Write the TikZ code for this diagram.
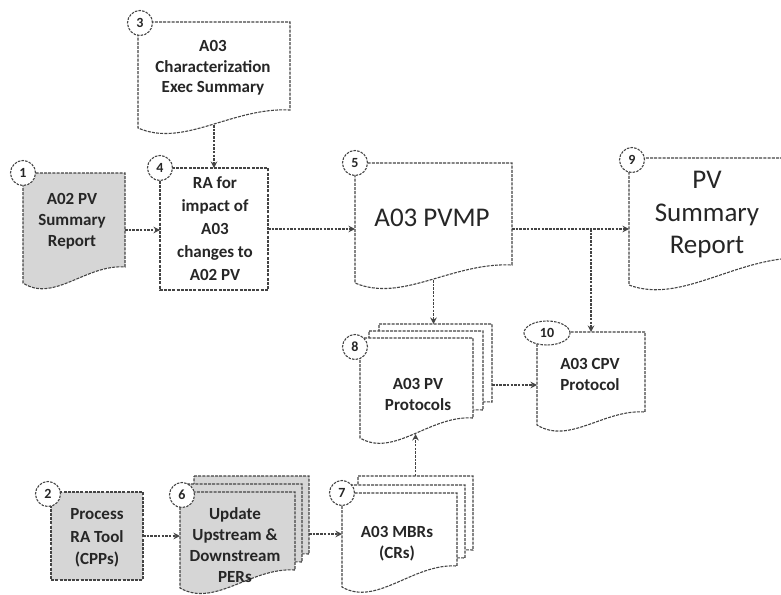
\documentclass[tikz,border=0pt]{standalone}
\usepackage{fontspec}
\setmainfont{Carlito}
\usetikzlibrary{arrows.meta,shapes.geometric}
\definecolor{ln}{HTML}{444444}
\definecolor{gfill}{HTML}{D6D6D6}
\definecolor{txt}{HTML}{262626}
\newcommand\docshape[6]{\draw[#1] (#2,#3) -- (#4,#3) -- (#4,#6) .. controls ({#2+0.62*(#4-#2)},{#6-3}) and ({#2+0.3*(#4-#2)},{#5+20}) .. (#2,#5) -- cycle;}
\newcommand\abox[5]{\node[inner sep=0pt,outer sep=0pt,minimum width={(#4)-(#2)},minimum height={(#5)-(#3)}] (#1) at ({(#2+#4)/2},{(#3+#5)/2}) {};}
\begin{document}
\begin{tikzpicture}[x=1pt,y=-1pt,
  shp/.style={draw=ln,line width=1.1pt,dash pattern=on 3pt off 1.2pt,fill=white},
  conn/.style={draw=ln,line width=1.1pt,dash pattern=on 2.5pt off 1.2pt,-{Stealth[open,length=6.5pt,width=6.5pt]}},
  num/.style={circle,draw=ln,line width=1.1pt,dash pattern=on 2.5pt off 1.2pt,fill=white,minimum size=25pt,inner sep=0pt,font=\fontsize{14}{16}\selectfont\bfseries,text=txt},
  numell/.style={ellipse,draw=ln,line width=1.1pt,dash pattern=on 2.5pt off 1.2pt,fill=white,minimum width=46pt,minimum height=24pt,inner sep=0pt,font=\fontsize{14}{16}\selectfont\bfseries,text=txt},
  lbl/.style={align=center,text=txt,inner sep=0pt,font=\fontsize{17}{21}\selectfont\bfseries},
  big/.style={align=center,text=txt,inner sep=0pt,font=\fontsize{27}{33}\selectfont}]
\useasboundingbox (0,0) rectangle (781,594);
\clip (0,0) rectangle (781,594);
% shapes
\docshape{shp,fill=gfill}{23}{173}{125}{283}{267}
\draw[shp] (160,168) rectangle (268,290);
\docshape{shp}{138}{22}{290}{128}{110}
\docshape{shp}{355}{163}{512}{283}{265}
\docshape{shp}{629}{158}{805}{285}{258}
\docshape{shp}{379}{324}{492}{422}{402}
\docshape{shp}{369}{331}{483}{430}{410}
\docshape{shp}{360}{338}{473}{438}{418}
\docshape{shp}{537}{332}{645}{425}{412}
\draw[shp,fill=gfill] (51,492) rectangle (143,580);
\docshape{shp,fill=gfill}{194}{476}{309}{572}{554}
\docshape{shp,fill=gfill}{187}{484}{302}{580}{562}
\docshape{shp,fill=gfill}{180}{492}{295}{588}{570}
\docshape{shp}{358}{476}{473}{570}{550}
\docshape{shp}{350}{485}{465}{579}{558}
\docshape{shp}{342}{493}{457}{587}{566}
% anchor boxes
\abox{b1}{23}{173}{125}{287}
\abox{b4}{160}{168}{268}{290}
\abox{b3}{138}{22}{290}{125}
\abox{b5}{355}{163}{512}{280}
\abox{b9}{629}{158}{781}{280}
\abox{b8}{379}{324}{492}{446}
\abox{b8f}{360}{338}{473}{434}
\abox{b10}{537}{332}{645}{418}
\abox{b2}{51}{492}{143}{580}
\abox{b6}{180}{476}{309}{592}
\abox{b7}{342}{476}{457}{592}
\abox{b7k}{358}{476}{473}{570}
% connectors
\draw[conn] (b1.east) -- (b1.east -| b4.west);
\draw[conn] (b3.south) -- (b4.north);
\draw[conn] (b4.east) -- (b4.east -| b5.west);
\draw[conn] (b4.east -| b5.east) -- (b4.east -| b9.west);
\draw[conn] (b4.east -| b10.north) -- (b10.north);
\draw[conn] (b5.south) -- (b5.south |- b8.north);
\draw[conn] (b8.east) -- (b8.east -| b10.west);
\draw[conn] (b2.east) -- (b2.east -| b6.west);
\draw[conn] (b6.east) -- (b6.east -| b7.west);
\draw[conn] (b7k.north) -- (b7k.north |- b8f.south);
% texts
\node[lbl] (t1) at (72,221) {A02 PV\\Summary\\Report};
\node[lbl,font=\fontsize{17}{23}\selectfont\bfseries] (t4) at (215,229) {RA for\\impact of\\A03\\changes to\\A02 PV};
\node[lbl,font=\fontsize{17}{20.5}\selectfont\bfseries] (t3) at (213,68) {A03\\Characterization\\Exec Summary};
\node[big] (t5) at (432,218) {A03 PVMP};
\node[big,font=\fontsize{27}{32.5}\selectfont] (t9) at (707,215) {PV\\Summary\\Report};
\node[lbl] (t8) at (418,394) {A03 PV\\Protocols};
\node[lbl] (t10) at (590,374) {A03 CPV\\Protocol};
\node[lbl,font=\fontsize{17}{22.5}\selectfont\bfseries] (t2) at (97,538) {Process\\RA Tool\\(CPPs)};
\node[lbl] (t6) at (235,545) {Update\\Upstream \&\\Downstream\\PERs};
\node[lbl] (t7) at (397,544) {A03 MBRs\\(CRs)};
% number markers
\node[num] (c1) at (23,173) {1};
\node[num] (c4) at (160,168) {4};
\node[num] (c3) at (140,23) {3};
\node[num] (c5) at (355,163) {5};
\node[num] (c9) at (632,160) {9};
\node[num] (c8) at (355,347) {8};
\node[numell] (c10) at (547,333) {10};
\node[num] (c2) at (48,494) {2};
\node[num] (c6) at (182,495) {6};
\node[num] (c7) at (342,493) {7};
\end{tikzpicture}
\end{document}
